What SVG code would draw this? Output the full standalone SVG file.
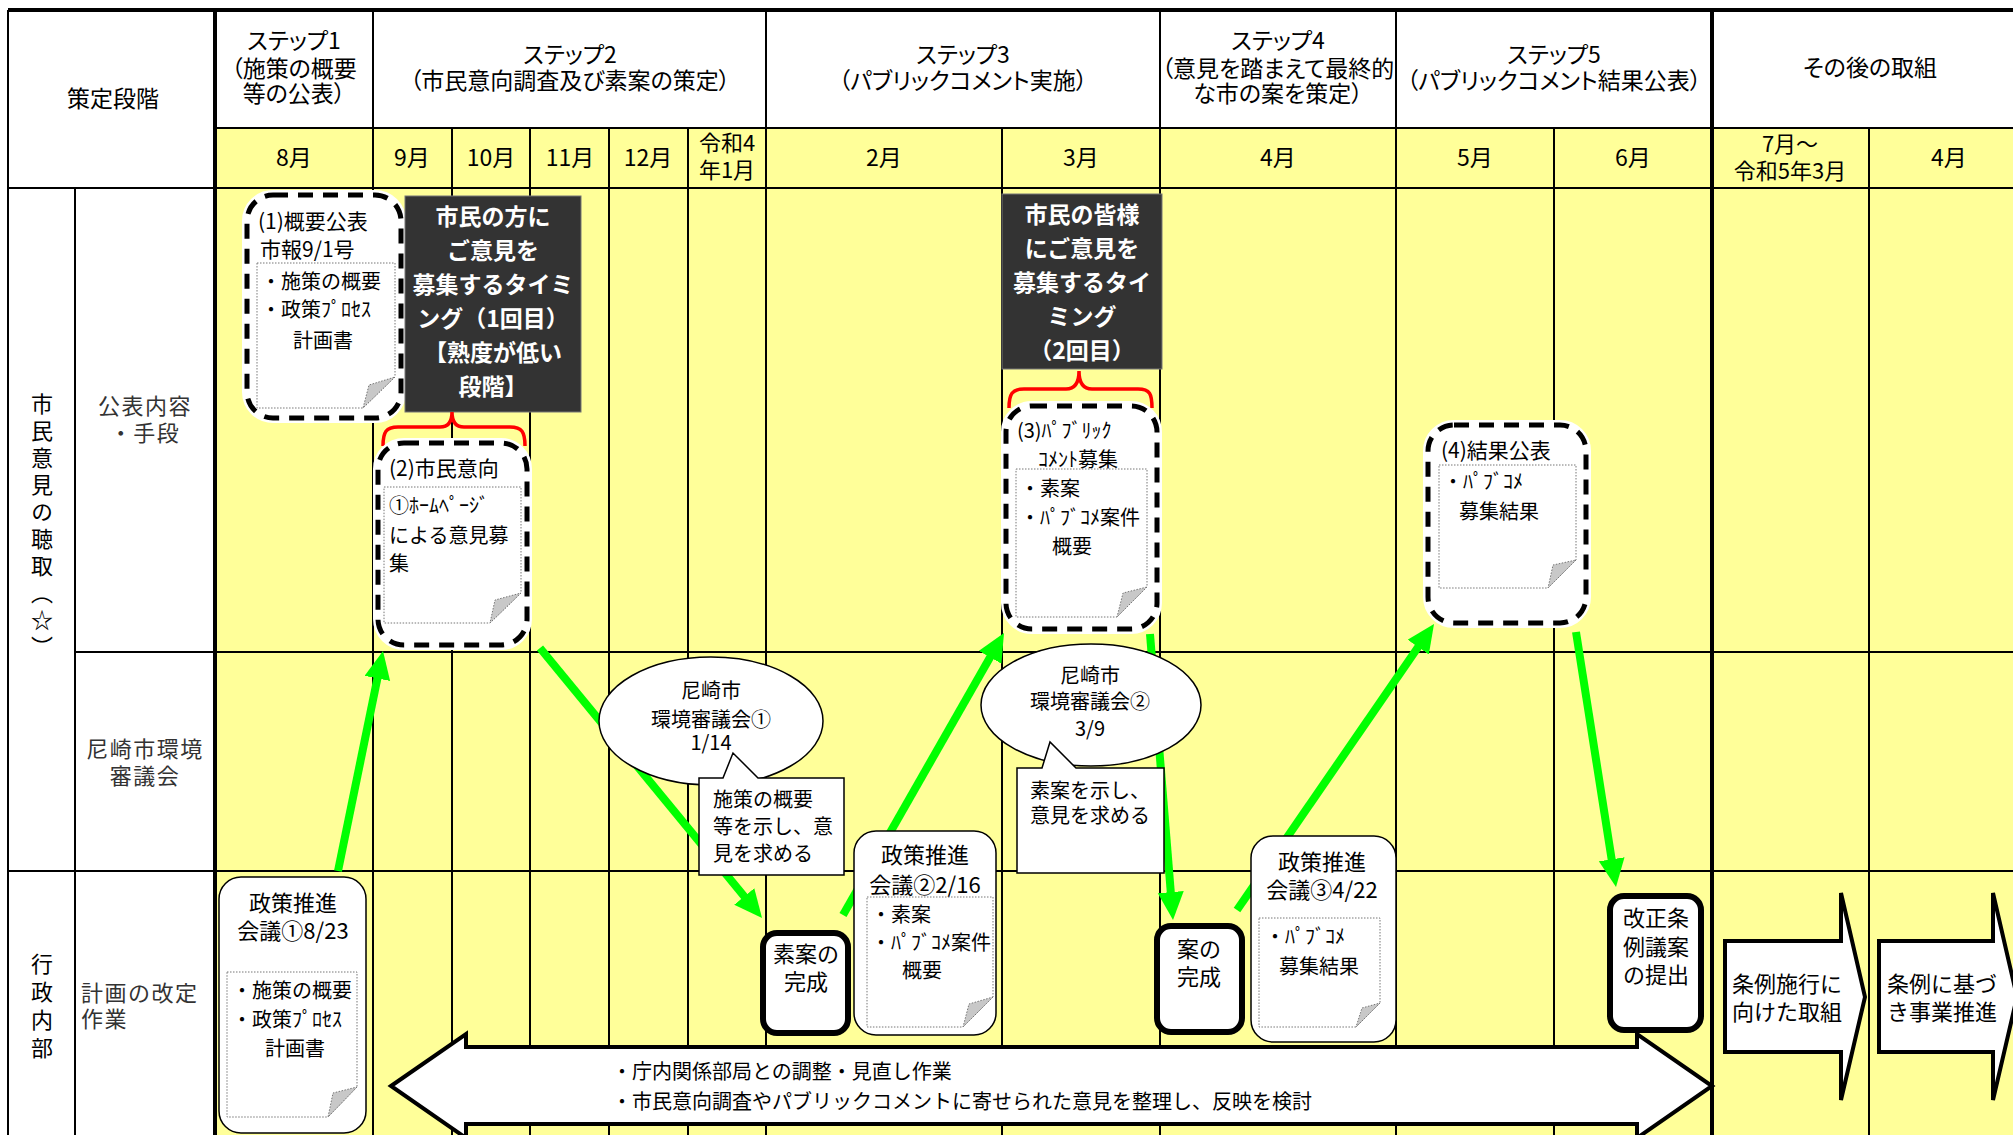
<svg xmlns="http://www.w3.org/2000/svg" width="2013" height="1135" viewBox="0 0 2013 1135">
<defs>
<style>
text{font-family:"Noto Sans CJK JP","Noto Sans CJK SC",sans-serif;fill:#000;}
.h{font-size:23px;text-anchor:middle;font-feature-settings:"palt";}
.m{font-size:23px;text-anchor:middle;}
.m2{font-size:22px;text-anchor:middle;}
.lb{font-size:22px;text-anchor:middle;fill:#333;letter-spacing:1.5px;}
.ll{font-size:22px;fill:#333;letter-spacing:1.5px;}
.v{font-size:22px;writing-mode:vertical-rl;}
.b{font-size:20px;}
.b1{font-size:21px;}
.bt{font-size:22px;}
.c{text-anchor:middle;}
.w{font-size:23px;font-weight:bold;fill:#fff;text-anchor:middle;}
.grid{stroke:#000;stroke-width:2;fill:none;}
.thick{stroke-width:4;}
.dash{fill:none;stroke:#000;stroke-width:5;stroke-dasharray:15 10;}
.halo{fill:#fff;stroke:#fff;stroke-width:10;}
.doc{fill:#fff;stroke:#777;stroke-width:1;stroke-dasharray:1.5 1.5;}
.fold{fill:#c8c8c8;stroke:#777;stroke-width:1;stroke-dasharray:1.5 1.5;}
.dark{fill:#333;stroke:#777;stroke-width:1;}
.brace{fill:none;stroke:#f00;stroke-width:3.5;}
.rb{fill:#fff;stroke:#000;stroke-width:1.5;}
.tb{fill:#fff;stroke:#000;stroke-width:6;}
.arr{fill:#fff;stroke:#000;stroke-width:4;stroke-linejoin:miter;}
.gl{stroke:#00ff00;stroke-width:8;fill:none;marker-end:url(#ga);}
</style>
<marker id="ga" markerUnits="userSpaceOnUse" markerWidth="30" markerHeight="28" refX="4" refY="13" orient="auto">
<path d="M0,0 L28,13 L0,26 Z" fill="#00ff00"/>
</marker>
</defs>

<g id="background">
<rect x="0" y="0" width="2013" height="1135" fill="#fff"/>
<rect x="215" y="128" width="1798" height="1007" fill="#ffff99"/>
</g>

<g id="grid">
<path class="grid thick" d="M8,10 H2013"/>
<path class="grid" stroke-width="2.5" d="M215,128 H2013 M8,188 H2013 M75,652 H2013 M8,871 H2013"/>
<path class="grid" stroke-width="3" d="M8,10 V1135"/>
<path class="grid" d="M75,188 V1135 M373,10 V1135 M766,10 V1135 M1160,10 V1135 M1396,10 V1135"/>
<path class="grid thick" d="M215,10 V1135 M1712,10 V1135"/>
<path class="grid" d="M452,128 V1135 M530,128 V1135 M609,128 V1135 M688,128 V1135 M1002,128 V1135 M1554,128 V1135 M1869,128 V1135"/>
</g>

<g id="header-text">
<text class="m" x="113" y="107">策定段階</text>
<text class="h" x="294" y="49">ステップ1</text>
<text class="h" x="294" y="77">（施策の概要</text>
<text class="h" x="294" y="102">等の公表）</text>
<text class="h" x="570" y="63">ステップ2</text>
<text class="h" x="570" y="89">（市民意向調査及び素案の策定）</text>
<text class="h" x="963" y="63">ステップ3</text>
<text class="h" x="963" y="89">（パブリックコメント実施）</text>
<text class="h" x="1278" y="49">ステップ4</text>
<text class="h" x="1278" y="77">（意見を踏まえて最終的</text>
<text class="h" x="1278" y="102">な市の案を策定）</text>
<text class="h" x="1554" y="63">ステップ5</text>
<text class="h" x="1554" y="89">（パブリックコメント結果公表）</text>
<text class="h" x="1870" y="76">その後の取組</text>
<text class="m" x="294" y="166">8月</text>
<text class="m" x="412" y="166">9月</text>
<text class="m" x="491" y="166">10月</text>
<text class="m" x="570" y="166">11月</text>
<text class="m" x="648" y="166">12月</text>
<text class="m2" x="727" y="151">令和4</text>
<text class="m2" x="727" y="178">年1月</text>
<text class="m" x="884" y="166">2月</text>
<text class="m" x="1081" y="166">3月</text>
<text class="m" x="1278" y="166">4月</text>
<text class="m" x="1475" y="166">5月</text>
<text class="m" x="1633" y="166">6月</text>
<text class="m2" x="1790" y="152">7月～</text>
<text class="m2" x="1790" y="179">令和5年3月</text>
<text class="m" x="1949" y="166">4月</text>
</g>

<g id="row-labels">
<text class="v" x="42" y="393" letter-spacing="5">市民意見の聴取（☆）</text>
<text class="v" x="42" y="953" letter-spacing="6">行政内部</text>
<text class="lb" x="145" y="414">公表内容</text>
<text class="lb" x="145" y="441">・手段</text>
<text class="lb" x="145" y="757">尼崎市環境</text>
<text class="lb" x="145" y="784">審議会</text>
<text class="ll" x="81" y="1001">計画の改定</text>
<text class="ll" x="81" y="1027">作業</text>
</g>

<g id="connectors">
<line class="gl" x1="338" y1="871" x2="378.2" y2="674.5"/>
<line class="gl" x1="540" y1="648" x2="746.8" y2="899.5"/>
<line class="gl" x1="843" y1="915" x2="992.1" y2="653.8"/>
<line class="gl" x1="1150" y1="634" x2="1171.1" y2="896.1"/>
<line class="gl" x1="1237" y1="910" x2="1420.4" y2="643.8"/>
<line class="gl" x1="1576" y1="632" x2="1612.3" y2="863.3"/>
</g>

<g id="node-gaiyo-kohyo">
<rect class="halo" x="247" y="195" width="154" height="223" rx="26"/>
<rect class="dash" x="247" y="195" width="154" height="223" rx="26"/>
<path class="doc" d="M257,263 H395 V377 L363,408 H257 Z"/>
<path class="fold" d="M395,377 L363,408 L369,385 Z"/>
<text class="b1" x="258" y="229">(1)概要公表</text>
<text class="b1" x="260" y="257">市報9/1号</text>
<text class="b" x="261" y="289">・施策の概要</text>
<text class="b" x="261" y="317">・政策ﾌﾟﾛｾｽ</text>
<text class="b c" x="323" y="348">計画書</text>
</g>

<g id="node-timing1">
<rect class="dark" x="405" y="196" width="176" height="216"/>
<text class="w" x="493" y="225">市民の方に</text>
<text class="w" x="493" y="259">ご意見を</text>
<text class="w" x="493" y="293">募集するタイミ</text>
<text class="w" x="493" y="327">ング（1回目）</text>
<text class="w" x="493" y="361">【熟度が低い</text>
<text class="w" x="493" y="395">段階】</text>
<path class="brace" d="M383,446 C383,432 386,427 398,427 L440,427 C448,427 452,422 452,412 C452,422 456,427 464,427 L510,427 C522,427 525,432 525,446"/>
</g>

<g id="node-shimin-iko">
<rect class="halo" x="378" y="443" width="149" height="202" rx="26"/>
<rect class="dash" x="378" y="443" width="149" height="202" rx="26"/>
<path class="doc" d="M384,487 H521 V593 L490,623 H384 Z"/>
<path class="fold" d="M521,593 L490,623 L495,600 Z"/>
<text class="b1" x="389" y="476">(2)市民意向</text>
<text class="b" x="389" y="513">①ﾎｰﾑﾍﾟｰｼﾞ</text>
<text class="b" x="389" y="543">による意見募</text>
<text class="b" x="389" y="571">集</text>
</g>

<g id="node-timing2">
<rect class="dark" x="1002" y="194" width="160" height="175"/>
<text class="w" x="1082" y="223">市民の皆様</text>
<text class="w" x="1082" y="257">にご意見を</text>
<text class="w" x="1082" y="291">募集するタイ</text>
<text class="w" x="1082" y="325">ミング</text>
<text class="w" x="1082" y="359">（2回目）</text>
<path class="brace" d="M1009,408 C1009,394 1012,389 1024,389 L1066,389 C1075,389 1079,383 1079,371 C1079,383 1083,389 1092,389 L1138,389 C1150,389 1152,394 1152,408"/>
</g>

<g id="node-pubcom">
<rect class="halo" x="1006" y="406" width="151" height="223" rx="26"/>
<rect class="dash" x="1006" y="406" width="151" height="223" rx="26"/>
<path class="doc" d="M1016,469 H1147 V587 L1117,617 H1016 Z"/>
<path class="fold" d="M1147,587 L1117,617 L1123,593 Z"/>
<text class="b" x="1017" y="438">(3)ﾊﾟﾌﾞﾘｯｸ</text>
<text class="b c" x="1078" y="467">ｺﾒﾝﾄ募集</text>
<text class="b" x="1020" y="496">・素案</text>
<text class="b" x="1020" y="525">・ﾊﾟﾌﾞｺﾒ案件</text>
<text class="b c" x="1072" y="554">概要</text>
</g>

<g id="node-kekka">
<rect class="halo" x="1428" y="425" width="158" height="198" rx="26"/>
<rect class="dash" x="1428" y="425" width="158" height="198" rx="26"/>
<path class="doc" d="M1439,465 H1576 V560 L1548,588 H1439 Z"/>
<path class="fold" d="M1576,560 L1548,588 L1553,565 Z"/>
<text class="b1" x="1441" y="458">(4)結果公表</text>
<text class="b" x="1443" y="489">・ﾊﾟﾌﾞｺﾒ</text>
<text class="b" x="1459" y="519">募集結果</text>
</g>

<g id="node-shingikai1">
<ellipse class="rb" cx="711" cy="721" rx="112" ry="64"/>
<text class="b c" x="711" y="698">尼崎市</text>
<text class="b c" x="711" y="727">環境審議会①</text>
<text class="b c" x="711" y="750">1/14</text>
<path class="rb" d="M699,778 H723 L733,753 L758,778 H844 V875 H699 Z"/>
<text class="b" x="713" y="807">施策の概要</text>
<text class="b" x="713" y="834">等を示し、意</text>
<text class="b" x="713" y="861">見を求める</text>
</g>

<g id="node-shingikai2">
<ellipse class="rb" cx="1091" cy="705" rx="110" ry="61"/>
<text class="b c" x="1090" y="683">尼崎市</text>
<text class="b c" x="1090" y="709">環境審議会②</text>
<text class="b c" x="1090" y="736">3/9</text>
<path class="rb" d="M1017,768 H1042 L1050,742 L1076,768 H1164 V873 H1017 Z"/>
<text class="b" x="1030" y="798">素案を示し、</text>
<text class="b" x="1030" y="823">意見を求める</text>
</g>

<g id="node-kaigi1">
<rect class="rb" x="219" y="877" width="147" height="256" rx="22"/>
<text class="bt c" x="293" y="911">政策推進</text>
<text class="bt c" x="293" y="939">会議①8/23</text>
<path class="doc" d="M227,972 H357 V1087 L328,1117 H227 Z"/>
<path class="fold" d="M357,1087 L328,1117 L333,1093 Z"/>
<text class="b" x="232" y="998">・施策の概要</text>
<text class="b" x="232" y="1027">・政策ﾌﾟﾛｾｽ</text>
<text class="b c" x="295" y="1056">計画書</text>
</g>

<g id="node-soan">
<rect class="tb" x="763" y="933" width="85" height="100" rx="14"/>
<text class="bt c" x="806" y="962">素案の</text>
<text class="bt c" x="806" y="990">完成</text>
</g>

<g id="node-kaigi2">
<rect class="rb" x="854" y="831" width="142" height="204" rx="22"/>
<text class="bt c" x="925" y="863">政策推進</text>
<text class="bt c" x="925" y="893">会議②2/16</text>
<path class="doc" d="M867,897 H993 V997 L963,1027 H867 Z"/>
<path class="fold" d="M993,997 L963,1027 L969,1004 Z"/>
<text class="b" x="871" y="922">・素案</text>
<text class="b" x="871" y="950">・ﾊﾟﾌﾞｺﾒ案件</text>
<text class="b c" x="922" y="978">概要</text>
</g>

<g id="node-an">
<rect class="tb" x="1157" y="926" width="85" height="106" rx="14"/>
<text class="bt c" x="1199" y="957">案の</text>
<text class="bt c" x="1199" y="985">完成</text>
</g>

<g id="node-kaigi3">
<rect class="rb" x="1251" y="836" width="145" height="206" rx="22"/>
<text class="bt c" x="1322" y="870">政策推進</text>
<text class="bt c" x="1322" y="898">会議③4/22</text>
<path class="doc" d="M1259,918 H1380 V1003 L1356,1027 H1259 Z"/>
<path class="fold" d="M1380,1003 L1356,1027 L1362,1008 Z"/>
<text class="b" x="1265" y="944">・ﾊﾟﾌﾞｺﾒ</text>
<text class="b" x="1279" y="974">募集結果</text>
</g>

<g id="node-gian">
<rect class="tb" x="1610" y="896" width="91" height="134" rx="14"/>
<text class="bt c" x="1656" y="926">改正条</text>
<text class="bt c" x="1656" y="955">例議案</text>
<text class="bt c" x="1656" y="983">の提出</text>
</g>

<g id="node-chosei">
<path class="arr" d="M391,1086 L466,1034 V1047 H1637 V1034 L1712,1086 L1637,1138 V1124 H466 V1138 Z"/>
<text class="b" x="612" y="1079">・庁内関係部局との調整・見直し作業</text>
<text class="b" x="612" y="1109">・市民意向調査やパブリックコメントに寄せられた意見を整理し、反映を検討</text>
</g>

<g id="node-shiko">
<path class="arr" stroke-width="3.5" d="M1725,941 H1841 V893 L1865,997 L1841,1100 V1052 H1725 Z"/>
<text class="bt" x="1732" y="992">条例施行に</text>
<text class="bt" x="1732" y="1020">向けた取組</text>
</g>

<g id="node-suishin">
<path class="arr" stroke-width="3.5" d="M1879,941 H1993 V893 L2017,997 L1993,1100 V1052 H1879 Z"/>
<text class="bt" x="1887" y="992">条例に基づ</text>
<text class="bt" x="1887" y="1020">き事業推進</text>
</g>
</svg>
